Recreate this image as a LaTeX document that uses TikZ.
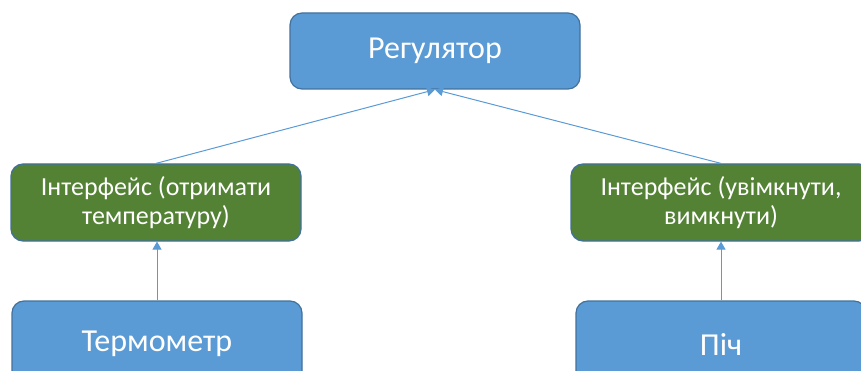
\documentclass[tikz,border=0pt]{standalone}
\usepackage{fontspec}
\setmainfont{Carlito}
\usepackage{tikz}
\usetikzlibrary{arrows.meta,positioning,calc}
\definecolor{bluefill}{HTML}{5B9BD5}
\definecolor{blueline}{HTML}{41719C}
\definecolor{greenfill}{HTML}{548235}
\tikzset{
  box/.style={rectangle, rounded corners=12pt, draw=blueline, line width=1.2pt, fill=#1,
              align=center, text=white, minimum width=290pt, minimum height=76pt, inner sep=0pt},
  arr/.style={-{Triangle[length=8pt,width=9pt]}, line width=1pt, draw=bluefill},
}

\begin{document}
\begin{tikzpicture}[x=1pt, y=-1pt]
    \useasboundingbox (0,0) rectangle (861,371);
    % Top
    \node[box=bluefill, font=\fontsize{32}{36}\selectfont] (reg) at (435,51) {Регулятор};
    % Interfaces
    \node[box=greenfill, minimum height=77pt, font=\fontsize{26}{29}\selectfont] (ifL) at (156,202.5)
      {Інтерфейс (отримати\\температуру)};
    \node[box=greenfill, minimum width=300pt, minimum height=77pt, font=\fontsize{26}{29}\selectfont] (ifR) at (721,202.5)
      {Інтерфейс (увімкнути,\\вимкнути)};
    % Devices
    \node[box=bluefill, minimum height=86pt, font=\fontsize{32}{36}\selectfont] (therm) at (157,344) {Термометр};
    \node[box=bluefill, minimum height=86pt, font=\fontsize{32}{36}\selectfont] (pich) at (721,344) {Піч};
    % Arrows
    \draw[arr] (ifL.north) -- (reg.south); \draw[arr] (ifR.north) -- (reg.south);
    \draw[arr] (therm.north) -- (ifL.south -| therm.north);
    \draw[arr] (pich.north) -- (ifR.south);
\end{tikzpicture}
\end{document}
